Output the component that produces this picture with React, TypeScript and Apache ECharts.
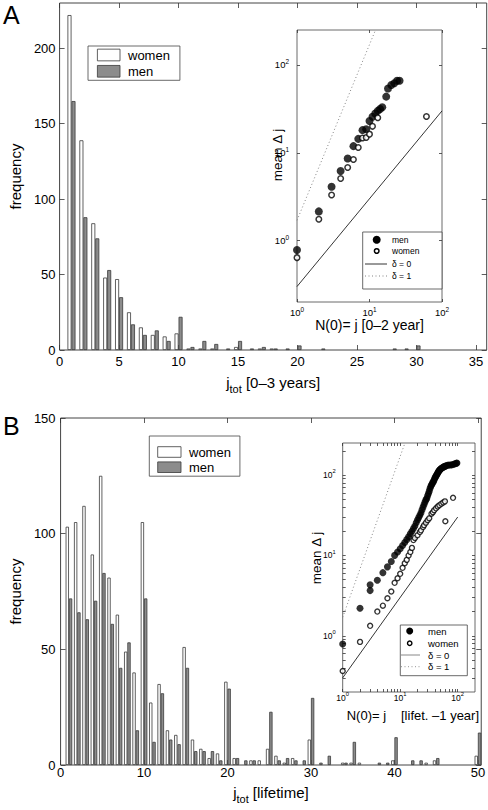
import { useEffect, useRef } from "react";
import * as echarts from "echarts";

const FONT = "'Liberation Sans', Arial, Helvetica, sans-serif";

// ---------- Panel A histogram (j_tot, 0-3 years) ----------
const binsA = [1, 2, 3, 4, 5, 6, 7, 8, 9, 10, 11, 12, 13, 14, 15, 16, 17, 18, 19, 20, 21, 22, 23, 24, 25, 26, 27, 28, 29, 30, 31, 32, 33, 34, 35];
const womenA = [222, 139, 84, 48, 47, 25, 15, 10, 9, 11, 1, 1, 1, 0, 2, 0, 1, 1, 0, 0, 0, 0, 0, 0, 0, 0, 0, 0, 0, 0, 0, 0, 0, 0, 0];
const menA = [165, 88, 74, 53, 35, 17, 10, 13, 6, 22, 2, 6, 4, 1, 6, 1, 2, 1, 1, 3, 0, 1, 0, 0, 0, 0, 0, 1, 1, 3, 0, 0, 0, 0, 0];
const xTicksA = [0, 5, 10, 15, 20, 25, 30, 35];
const yTicksA = [0, 50, 100, 150, 200];

// ---------- Panel B histogram (j_tot, lifetime) ----------
const binsB = [1, 2, 3, 4, 5, 6, 7, 8, 9, 10, 11, 12, 13, 14, 15, 16, 17, 18, 19, 20, 21, 22, 23, 24, 25, 26, 27, 28, 29, 30, 31, 32, 33, 34, 35, 36, 37, 38, 39, 40, 41, 42, 43, 44, 45, 46, 47, 48, 49, 50];
const womenB = [103, 105, 112, 91, 125, 81, 65, 49, 40, 105, 27, 35, 15, 13, 51, 11, 7, 3, 5, 36, 3, 0, 2, 2, 7, 4, 1, 3, 0, 11, 0, 0, 0, 1, 1, 1, 0, 0, 0, 2, 0, 0, 0, 1, 2, 0, 0, 0, 0, 4];
const menB = [72, 66, 63, 71, 83, 61, 42, 53, 15, 72, 10, 31, 11, 9, 42, 6, 6, 6, 2, 33, 3, 2, 2, 0, 23, 2, 3, 2, 2, 29, 1, 4, 0, 1, 10, 0, 0, 1, 1, 12, 0, 2, 2, 0, 3, 0, 0, 0, 0, 14];
const xTicksB = [0, 10, 20, 30, 40, 50];
const yTicksB = [0, 50, 100, 150];

// ---------- Inset A (log-log) ----------
const insetAMenN = [1, 2, 3, 4, 5, 6, 7, 8, 9, 10, 11, 12, 13, 14, 15, 17, 18, 20, 22, 24, 26];
const insetAMenDj = [0.78, 2.15, 4.1, 6.2, 8.6, 11.9, 14.4, 18.1, 18.5, 23, 25.7, 28, 30, 31.5, 33, 43.6, 54, 59, 62, 66, 66];
const insetAWomenN = [1, 2, 3, 4, 5, 6, 7, 8, 9, 10, 11, 13, 61];
const insetAWomenDj = [0.64, 1.75, 3.3, 5.1, 6.8, 8.4, 11.5, 14.7, 14.9, 16.3, 20, 25, 25.9];

// ---------- Inset B (log-log) ----------
const insetBMenN = [1, 2, 3, 3, 4, 5, 6, 7, 8, 9, 10, 11, 12, 13, 14, 15, 16, 17, 18, 19, 20, 21, 22, 23, 24, 25, 26, 27, 28, 29, 30, 31, 32, 33, 34, 35, 36, 37, 38, 39, 40, 41, 42, 43, 44, 45, 46, 47, 48, 49, 50, 52, 54, 56, 58, 60, 63, 66, 70, 75, 80, 85, 90, 95, 97];
const insetBMenDj = [0.79, 2.2, 3.65, 4.3, 4.9, 6.1, 7.2, 8.4, 10.0, 11.0, 12.1, 13.3, 14.5, 15.7, 17.0, 18.6, 20.0, 21.6, 23.2, 25.5, 27.5, 29.5, 31.6, 34, 37, 40, 43, 46, 49, 51, 55, 59, 63, 68, 72, 75, 78, 81, 83, 87, 91, 94, 97, 100, 103, 106, 109, 112, 114, 116, 118, 121, 123, 125, 127, 128, 130, 132, 133, 133, 134, 136, 138, 140, 141];
const insetBWomenN = [1, 2, 3, 4, 5, 6, 7, 8, 9, 10, 11, 12, 13, 14, 15, 16, 17, 18, 20, 22, 23, 25, 26, 28, 30, 32, 35, 37, 39, 42, 45, 48, 52, 56, 60, 61, 83];
const insetBWomenDj = [0.365, 0.84, 1.33, 2.0, 2.37, 2.93, 3.55, 4.56, 5.2, 5.9, 7.0, 8.0, 8.8, 10, 11, 12.4, 15.5, 16.5, 17.8, 19.5, 20.5, 22.5, 23.7, 25.5, 27.4, 29, 33, 34.5, 36.5, 38.5, 40.5, 42, 44, 45.5, 47, 26.6, 52];

// reference lines delta = 0 and delta = 1
const delta0N = [1, 100];
const delta0Dj = [0.3, 30];
const delta1N = [1, 12.1];
const delta1Dj = [1.7, 250];

const logLabels = [1, 10, 100];
const logMinorX = [2, 3, 4, 5, 6, 7, 8, 9, 20, 30, 40, 50, 60, 70, 80, 90];
const logMinorY = [0.3, 0.4, 0.5, 0.6, 0.7, 0.8, 0.9, 2, 3, 4, 5, 6, 7, 8, 9, 20, 30, 40, 50, 60, 70, 80, 90, 200];

const lg = (v: number) => Math.log10(v);
const tickLine = { color: "#333", width: 0.8 };

function linAxis(gridIndex: number, position: string, min: number, max: number, ticks: number[], label: boolean, margin: number) {
  return {
    type: "value",
    gridIndex,
    position,
    min,
    max,
    axisLine: { show: false, onZero: false },
    splitLine: { show: false },
    axisTick: { show: true, inside: true, length: 5, lineStyle: tickLine, customValues: ticks },
    axisLabel: label
      ? { show: true, customValues: ticks, fontSize: 13, color: "#000", fontFamily: FONT, margin }
      : { show: false },
  };
}

function logAxis(gridIndex: number, position: string, minV: number, maxV: number, ticksV: number[], label: boolean, margin: number, fs: number) {
  return {
    type: "value",
    gridIndex,
    position,
    min: lg(minV),
    max: lg(maxV),
    axisLine: { show: false, onZero: false },
    splitLine: { show: false },
    axisTick: { show: true, inside: true, length: 3, lineStyle: tickLine, customValues: ticksV.map(lg) },
    axisLabel: label
      ? {
          show: true,
          customValues: logLabels.map(lg),
          margin,
          formatter: (v: number) => `{b|10}{e|${Math.round(v)}}`,
          rich: {
            b: { fontSize: fs, fontFamily: FONT, color: "#000" },
            e: { fontSize: fs * 0.68, fontFamily: FONT, color: "#000", padding: [0, 0, 7, 0] },
          },
        }
      : { show: false },
  };
}

function pairs(xs: number[], ys: number[]) {
  return xs.map((x, i) => [x, ys[i]]).filter((d) => d[1] > 0);
}
function logPairs(xs: number[], ys: number[]) {
  return xs.map((x, i) => [lg(x), lg(ys[i])]);
}

const barWomen = { color: "#ffffff", borderColor: "#3a3a3a", borderWidth: 0.8 };
const barMen = { color: "#8c8c8c", borderColor: "#3a3a3a", borderWidth: 0.8 };

function buildOption() {
  const axisNameRich = {
    j: { fontSize: 15, fontFamily: FONT, color: "#000" },
    s: { fontSize: 11, fontFamily: FONT, color: "#000", padding: [12, 0, 0, 0] },
  };
  const gridStyle = { show: true, borderColor: "#444", borderWidth: 1, backgroundColor: "#fff" };
  const legendCommon = {
    orient: "vertical",
    icon: "rect",
    selectedMode: false,
    borderColor: "#444",
    borderWidth: 0.8,
    backgroundColor: "#fff",
    textStyle: { fontSize: 13, fontFamily: FONT, color: "#000", lineHeight: 14, padding: [0, 0, 0, 3] },
    data: [
      { name: "women", itemStyle: barWomen },
      { name: "men", itemStyle: barMen },
    ],
  };
  return {
    animation: false,
    backgroundColor: "#fff",
    grid: [
      { left: 46, top: 3, width: 440.7, height: 347, ...gridStyle },
      { left: 297, top: 30, width: 145, height: 272, ...gridStyle, borderWidth: 0.8 },
      { left: 46, top: 418, width: 440.3, height: 347, ...gridStyle },
      { left: 342.7, top: 443, width: 132.3, height: 249, ...gridStyle, borderWidth: 0.8 },
    ],
    xAxis: [
      {
        ...linAxis(0, "bottom", 0, 35.9, xTicksA, true, 5),
        name: "{j|j}{s|tot}{j| [0–3 years]}",
        nameLocation: "middle",
        nameGap: 21,
        nameTextStyle: { rich: axisNameRich },
      },
      linAxis(0, "top", 0, 35.9, xTicksA, false, 5),
      logAxis(1, "bottom", 1, 100, logLabels, true, 4, 9.5),
      logAxis(1, "top", 1, 100, logLabels, false, 4, 9.5),
      {
        ...linAxis(2, "bottom", 0, 50.4, xTicksB, true, 1),
        name: "{j|j}{s|tot}{j| [lifetime]}",
        nameLocation: "middle",
        nameGap: 16,
        nameTextStyle: { rich: axisNameRich },
      },
      linAxis(2, "top", 0, 50.4, xTicksB, false, 1),
      logAxis(3, "bottom", 1, 200, [...logLabels, ...logMinorX], true, -1, 8.5),
      logAxis(3, "top", 1, 200, [...logLabels, ...logMinorX], false, -1, 8.5),
    ],
    yAxis: [
      {
        ...linAxis(0, "left", 0, 230, yTicksA, true, 4),
        name: "frequency",
        nameLocation: "middle",
        nameGap: 27,
        nameTextStyle: { fontSize: 15, fontFamily: FONT, color: "#000" },
      },
      linAxis(0, "right", 0, 230, yTicksA, false, 4),
      logAxis(1, "left", 0.2, 250, logLabels, true, 8, 9.5),
      logAxis(1, "right", 0.2, 250, logLabels, false, 8, 9.5),
      {
        ...linAxis(2, "left", 0, 150, yTicksB, true, 5),
        name: "frequency",
        nameLocation: "middle",
        nameGap: 27,
        nameTextStyle: { fontSize: 15, fontFamily: FONT, color: "#000" },
      },
      linAxis(2, "right", 0, 150, yTicksB, false, 5),
      logAxis(3, "left", 0.2, 250, [...logLabels, ...logMinorY], true, 7, 8.5),
      logAxis(3, "right", 0.2, 250, [...logLabels, ...logMinorY], false, 7, 8.5),
    ],
    legend: [
      { ...legendCommon, left: 88, top: 46, itemWidth: 22.6, itemHeight: 11.7, itemGap: 2.3, padding: [2, 10, 2, 9] },
      { ...legendCommon, left: 149.3, top: 436, itemWidth: 23.3, itemHeight: 10.6, itemGap: 1.2, padding: [9, 9, 2, 8] },
    ],
    series: [
      { type: "bar", name: "women", xAxisIndex: 0, yAxisIndex: 0, barWidth: 4, barGap: "0%", itemStyle: barWomen, data: pairs(binsA, womenA) },
      { type: "bar", name: "men", xAxisIndex: 0, yAxisIndex: 0, barWidth: 4, barGap: "0%", itemStyle: barMen, data: pairs(binsA, menA) },
      { type: "bar", name: "women", xAxisIndex: 4, yAxisIndex: 4, barWidth: 3.3, barGap: "0%", itemStyle: barWomen, data: pairs(binsB, womenB) },
      { type: "bar", name: "men", xAxisIndex: 4, yAxisIndex: 4, barWidth: 3.3, barGap: "0%", itemStyle: barMen, data: pairs(binsB, menB) },

      { type: "line", name: "δ = 0 A", xAxisIndex: 2, yAxisIndex: 2, symbol: "none", lineStyle: { color: "#000", width: 0.8 }, data: logPairs(delta0N, delta0Dj) },
      { type: "line", name: "δ = 1 A", xAxisIndex: 2, yAxisIndex: 2, symbol: "none", lineStyle: { color: "#777", width: 0.9, type: [1, 2.5] }, data: logPairs(delta1N, delta1Dj) },
      { type: "scatter", name: "men inset A", xAxisIndex: 2, yAxisIndex: 2, symbol: "circle", symbolSize: 8, itemStyle: { color: "#000" }, data: logPairs(insetAMenN, insetAMenDj) },
      { type: "scatter", name: "women inset A", xAxisIndex: 2, yAxisIndex: 2, symbol: "circle", symbolSize: 5.5, itemStyle: { color: "#fff", borderColor: "#000", borderWidth: 1.5 }, data: logPairs(insetAWomenN, insetAWomenDj) },

      { type: "line", name: "δ = 0 B", xAxisIndex: 6, yAxisIndex: 6, symbol: "none", lineStyle: { color: "#000", width: 0.8 }, data: logPairs(delta0N, delta0Dj) },
      { type: "line", name: "δ = 1 B", xAxisIndex: 6, yAxisIndex: 6, symbol: "none", lineStyle: { color: "#777", width: 0.9, type: [1, 2.5] }, data: logPairs(delta1N, delta1Dj) },
      { type: "scatter", name: "men inset B", xAxisIndex: 6, yAxisIndex: 6, symbol: "circle", symbolSize: 7, itemStyle: { color: "#000" }, data: logPairs(insetBMenN, insetBMenDj) },
      { type: "scatter", name: "women inset B", xAxisIndex: 6, yAxisIndex: 6, symbol: "circle", symbolSize: 5, itemStyle: { color: "#fff", borderColor: "#000", borderWidth: 1.4 }, data: logPairs(insetBWomenN, insetBWomenDj) },
    ],
    graphic: [
      { type: "text", x: 3, y: 2, style: { text: "A", fontSize: 25, fontFamily: FONT, fill: "#000" } },
      { type: "text", x: 3, y: 413, style: { text: "B", fontSize: 25, fontFamily: FONT, fill: "#000" } },

      // inset A labels
      { type: "text", x: 277, y: 155, rotation: Math.PI / 2, style: { text: "mean Δ j", fontSize: 13.5, fontFamily: FONT, fill: "#000", align: "center", verticalAlign: "middle" } },
      { type: "text", x: 369.5, y: 325, style: { text: "N(0)= j [0–2 year]", fontSize: 14, fontFamily: FONT, fill: "#000", align: "center", verticalAlign: "middle" } },
      // inset A legend
      { type: "rect", shape: { x: 362.7, y: 232, width: 79.3, height: 57 }, style: { fill: "#fff", stroke: "#444", lineWidth: 0.8 } },
      { type: "circle", shape: { cx: 376.7, cy: 239.7, r: 4 }, style: { fill: "#000" } },
      { type: "circle", shape: { cx: 376.7, cy: 251, r: 2.3 }, style: { fill: "#fff", stroke: "#000", lineWidth: 1.5 } },
      { type: "line", shape: { x1: 365, y1: 264, x2: 387, y2: 264 }, style: { stroke: "#000", lineWidth: 0.8 } },
      { type: "line", shape: { x1: 365, y1: 276, x2: 387, y2: 276 }, style: { stroke: "#777", lineWidth: 0.9, lineDash: [1, 2.5] } },
      { type: "text", x: 392, y: 239.7, style: { text: "men", fontSize: 8.5, fontFamily: FONT, fill: "#000", verticalAlign: "middle" } },
      { type: "text", x: 392, y: 251, style: { text: "women", fontSize: 8.5, fontFamily: FONT, fill: "#000", verticalAlign: "middle" } },
      { type: "text", x: 392, y: 264, style: { text: "δ = 0", fontSize: 8.5, fontFamily: FONT, fill: "#000", verticalAlign: "middle" } },
      { type: "text", x: 392, y: 276, style: { text: "δ = 1", fontSize: 8.5, fontFamily: FONT, fill: "#000", verticalAlign: "middle" } },

      // inset B labels
      { type: "text", x: 316.5, y: 558, rotation: Math.PI / 2, style: { text: "mean Δ j", fontSize: 13.5, fontFamily: FONT, fill: "#000", align: "center", verticalAlign: "middle" } },
      { type: "text", x: 346.7, y: 715, style: { text: "N(0)= j", fontSize: 13, fontFamily: FONT, fill: "#000", verticalAlign: "middle" } },
      { type: "text", x: 401, y: 715, style: { text: "[lifet. –1 year]", fontSize: 13, fontFamily: FONT, fill: "#000", verticalAlign: "middle" } },
      // inset B legend
      { type: "rect", shape: { x: 400.3, y: 625, width: 67, height: 50.7 }, style: { fill: "#fff", stroke: "#444", lineWidth: 0.8 } },
      { type: "circle", shape: { cx: 409.7, cy: 631, r: 3.5 }, style: { fill: "#000" } },
      { type: "circle", shape: { cx: 409.7, cy: 643.3, r: 2.2 }, style: { fill: "#fff", stroke: "#000", lineWidth: 1.4 } },
      { type: "line", shape: { x1: 401, y1: 655, x2: 420, y2: 655 }, style: { stroke: "#888", lineWidth: 1 } },
      { type: "line", shape: { x1: 401, y1: 666.7, x2: 420, y2: 666.7 }, style: { stroke: "#888", lineWidth: 0.9, lineDash: [1, 2.5] } },
      { type: "text", x: 428, y: 631, style: { text: "men", fontSize: 9.5, fontFamily: FONT, fill: "#000", verticalAlign: "middle" } },
      { type: "text", x: 428, y: 643.3, style: { text: "women", fontSize: 9.5, fontFamily: FONT, fill: "#000", verticalAlign: "middle" } },
      { type: "text", x: 428, y: 655, style: { text: "δ = 0", fontSize: 9.5, fontFamily: FONT, fill: "#000", verticalAlign: "middle" } },
      { type: "text", x: 428, y: 666.7, style: { text: "δ = 1", fontSize: 9.5, fontFamily: FONT, fill: "#000", verticalAlign: "middle" } },
    ],
  };
}

export default function App() {
  const ref = useRef<HTMLDivElement>(null);
  useEffect(() => {
    if (!ref.current) return;
    const chart = echarts.init(ref.current, undefined, { renderer: "svg" });
    chart.setOption(buildOption() as any);
    return () => chart.dispose();
  }, []);
  return (
    <div
      ref={ref}
      style={{ position: "absolute", left: 0, top: 0, width: 488, height: 810, background: "#fff" }}
    />
  );
}
